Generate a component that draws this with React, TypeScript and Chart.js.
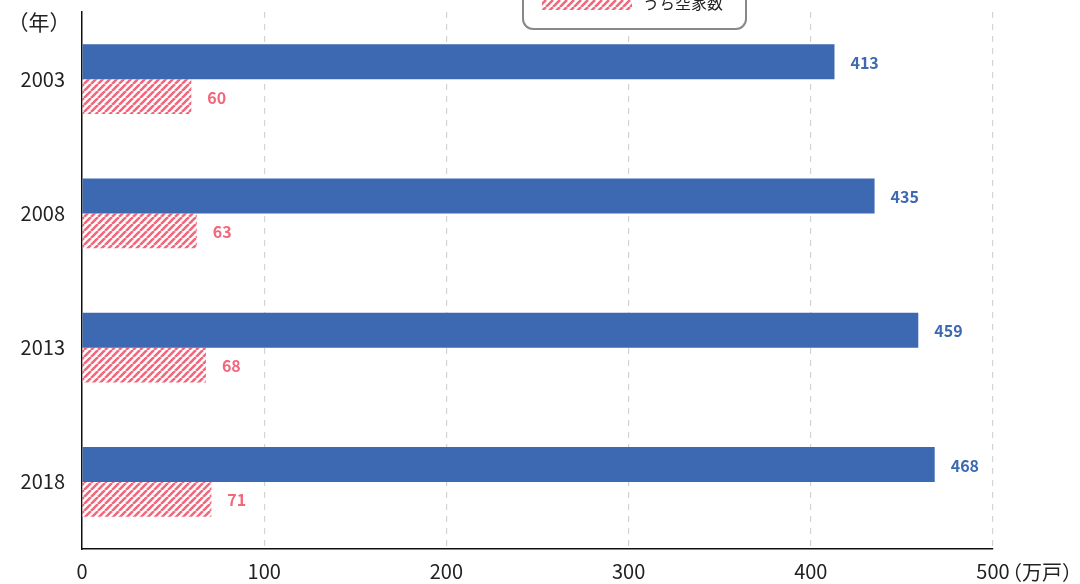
import React, { useEffect, useRef } from 'react';
import { Chart, registerables } from 'chart.js';
Chart.register(...registerables);

const years = ['2003', '2008', '2013', '2018'];
const totalHousing = [413, 435, 459, 468];
const vacantHousing = [60, 63, 68, 71];
const seriesLabels = ['総住宅数', 'うち空家数'];
const yearUnit = '（年）';
const valueUnit = '（万戸）';

const BLUE = '#3d69b2';
const RED = '#f2677b';
const FONT = '"Noto Sans CJK JP", "Noto Sans", sans-serif';

function makeHatch(ctx: CanvasRenderingContext2D) {
  const n = 7;
  const c = document.createElement('canvas');
  c.width = n;
  c.height = n;
  const g = c.getContext('2d')!;
  g.fillStyle = '#fff';
  g.fillRect(0, 0, n, n);
  g.strokeStyle = RED;
  g.lineWidth = 2.6;
  g.beginPath();
  for (let k = -n; k <= 2 * n; k += n) {
    g.moveTo(k, n);
    g.lineTo(k + n, 0);
  }
  g.stroke();
  return ctx.createPattern(c, 'repeat')!;
}

export default function App() {
  const ref = useRef<HTMLCanvasElement>(null);
  useEffect(() => {
    document.body.style.margin = '0';
    const canvas = ref.current!;
    const ctx = canvas.getContext('2d')!;
    const hatch = makeHatch(ctx);

    const extras = {
      id: 'extras',
      afterDatasetsDraw(chart: any) {
        const c = chart.ctx;
        c.save();
        chart.data.datasets.forEach((ds: any, di: number) => {
          const meta = chart.getDatasetMeta(di);
          meta.data.forEach((bar: any, i: number) => {
            c.font = `bold 16px ${FONT}`;
            c.fillStyle = di === 0 ? BLUE : RED;
            c.textAlign = 'left';
            c.textBaseline = 'middle';
            c.fillText(String(ds.data[i]), bar.x + 16, bar.y + 1);
          });
        });
        c.font = `21px ${FONT}`;
        c.fillStyle = '#222';
        c.textBaseline = 'middle';
        c.textAlign = 'center';
        c.fillText(yearUnit, 39, 22);
        c.font = `20px ${FONT}`;
        c.textAlign = 'left';
        c.fillText(valueUnit, 1002, 572);
        const lx = 523, rx = 746, ty = -60, by = 29, r = 10;
        c.fillStyle = '#fff';
        c.strokeStyle = '#888';
        c.lineWidth = 2;
        c.beginPath();
        c.moveTo(lx + r, ty);
        c.lineTo(rx - r, ty);
        c.arcTo(rx, ty, rx, ty + r, r);
        c.lineTo(rx, by - r);
        c.arcTo(rx, by, rx - r, by, r);
        c.lineTo(lx + r, by);
        c.arcTo(lx, by, lx, by - r, r);
        c.lineTo(lx, ty + r);
        c.arcTo(lx, ty, lx + r, ty, r);
        c.closePath();
        c.fill();
        c.stroke();
        c.fillStyle = BLUE;
        c.fillRect(542, -30, 90, 14);
        c.fillStyle = '#222';
        c.font = `16px ${FONT}`;
        c.fillText(seriesLabels[0], 643, -23);
        c.fillStyle = hatch;
        c.fillRect(542, -4, 90, 14);
        c.fillStyle = '#222';
        c.fillText(seriesLabels[1], 643, 3);
        c.restore();
      },
    };

    const chart = new Chart(canvas, {
      type: 'bar',
      data: {
        labels: years,
        datasets: [
          { label: seriesLabels[0], data: totalHousing, backgroundColor: BLUE, categoryPercentage: 0.52, barPercentage: 1 },
          { label: seriesLabels[1], data: vacantHousing, backgroundColor: hatch as any, categoryPercentage: 0.52, barPercentage: 1 },
        ],
      },
      options: {
        indexAxis: 'y',
        responsive: false,
        animation: false,
        layout: { padding: { top: 12, right: 87, left: 0, bottom: 0 } },
        plugins: { legend: { display: false }, tooltip: { enabled: false } },
        scales: {
          x: {
            min: 0,
            max: 500,
            ticks: { stepSize: 100, color: '#222', font: { size: 20, family: FONT }, padding: 10 },
            grid: {
              color: (c: any) => (c.tick && c.tick.value === 0 ? 'rgba(0,0,0,0)' : '#d4d4d4'),
              drawTicks: false,
              lineWidth: 1.2,
            },
            border: { display: true, color: '#111', width: 1.5, dash: [6, 6] },
            afterFit: (s: any) => { s.height = 35; s.paddingLeft = 0; s.paddingRight = 0; },
          },
          y: {
            ticks: { color: '#222', font: { size: 20, family: FONT }, padding: 17 },
            grid: { display: false, drawTicks: false },
            border: { display: true, color: '#111', width: 1.5 },
            afterFit: (s: any) => { s.width = 82; s.paddingTop = 0; s.paddingBottom = 0; },
          },
        },
      },
      plugins: [extras],
    });
    return () => chart.destroy();
  }, []);
  return <canvas ref={ref} width={1080} height={584} style={{ display: 'block', width: 1080, height: 584 }} />;
}
